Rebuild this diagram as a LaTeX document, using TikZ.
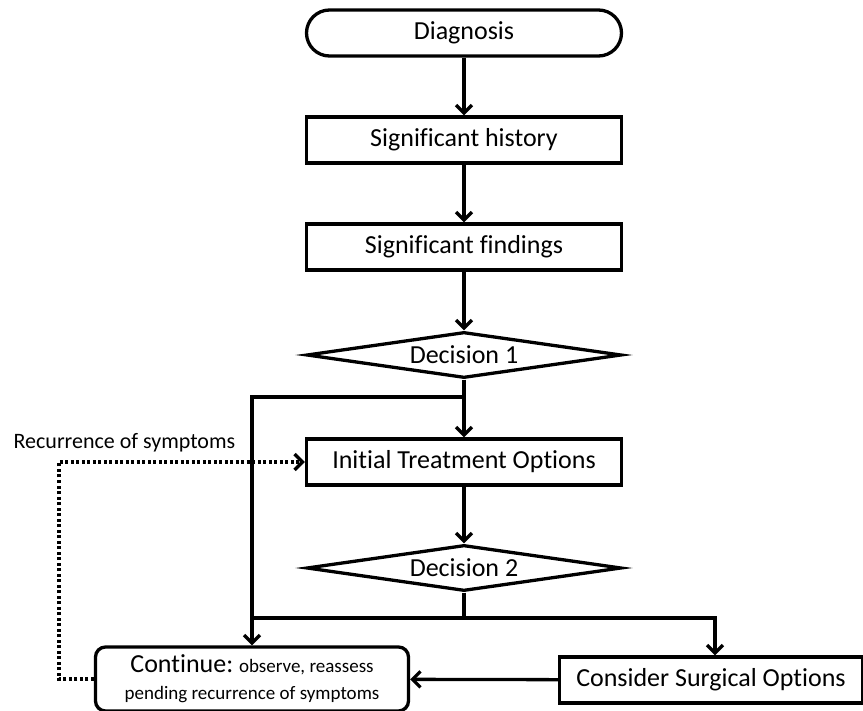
\documentclass[tikz,border=0pt]{standalone}
\usepackage{fontspec}
\setmainfont{Carlito}[Ligatures=NoCommon]
\usetikzlibrary{arrows.meta}
\usetikzlibrary{shapes.geometric}

\begin{document}
\begin{tikzpicture}[x=1pt,y=-1pt,line width=3.3pt,
	>={Straight Barb[length=8pt,width=16pt]},
	big/.style={font=\fontsize{26}{30}\selectfont},
	box/.style={draw, rectangle, big, inner sep=0pt, minimum width=315pt, minimum height=46pt},
	decide/.style={draw, diamond, big, aspect=6.8, inner sep=0pt, minimum width=315pt, minimum height=46pt}]

		\useasboundingbox (0,0) rectangle (863,711);

		\coordinate (Dg) at (464,33);
		\coordinate (Hs) at (464,140);
		\coordinate (Fd) at (464,247);
		\coordinate (Q1) at (464,355);
		\coordinate (Tr) at (464,462);
		\coordinate (Q2) at (464,568);
		\coordinate (Sg) at (711,680);
		\coordinate (Ct) at (252,679);

		\coordinate (J1) at (464,397);
		\coordinate (J2) at (464,618);

		\node [box, rounded corners=23pt] (diag) at (Dg) {Diagnosis};
		\node [box] (hist) at (Hs) {Significant history};
		\node [box] (find) at (Fd) {Significant findings};
		\node [decide] (dec1) at (Q1) {Decision 1};
		\node [box] (treat) at (Tr) {Initial Treatment Options};
		\node [decide] (dec2) at (Q2) {Decision 2};
		\node [box, minimum width=303pt] (surg) at (Sg) {Consider Surgical Options};
		\node [draw, rounded corners=10pt, inner sep=0pt, minimum width=313pt, minimum height=64pt, align=center,
			font=\fontsize{19}{27}\selectfont] (cont) at (Ct)
			{{\fontsize{26}{27}\selectfont Continue:} observe, reassess\\
			 pending recurrence of symptoms};
		\node [anchor=west, font=\fontsize{22}{26}\selectfont, inner sep=0pt] (rec) at (12,443) {Recurrence of symptoms};

		\draw [->] (diag)--(hist);
		\draw [->] (hist)--(find);
		\draw [->] (find)--(dec1);
		\draw (dec1.south)--(J1);
		\draw [->] (J1)--(treat);
		\draw [->] (J1) -| (cont);
		\draw [->] (treat)--(dec2);
		\draw (dec2.south)--(J2);
		\draw [->] (cont.north |- J2) -| (surg.north -| 715,0);
		\draw [->] (surg)--(cont);

		%recurrence loop
		\draw [->, dash pattern=on 3pt off 2.5pt] (cont.west) -- ++(-35,0) |- (treat.west);

\end{tikzpicture}
\end{document}
